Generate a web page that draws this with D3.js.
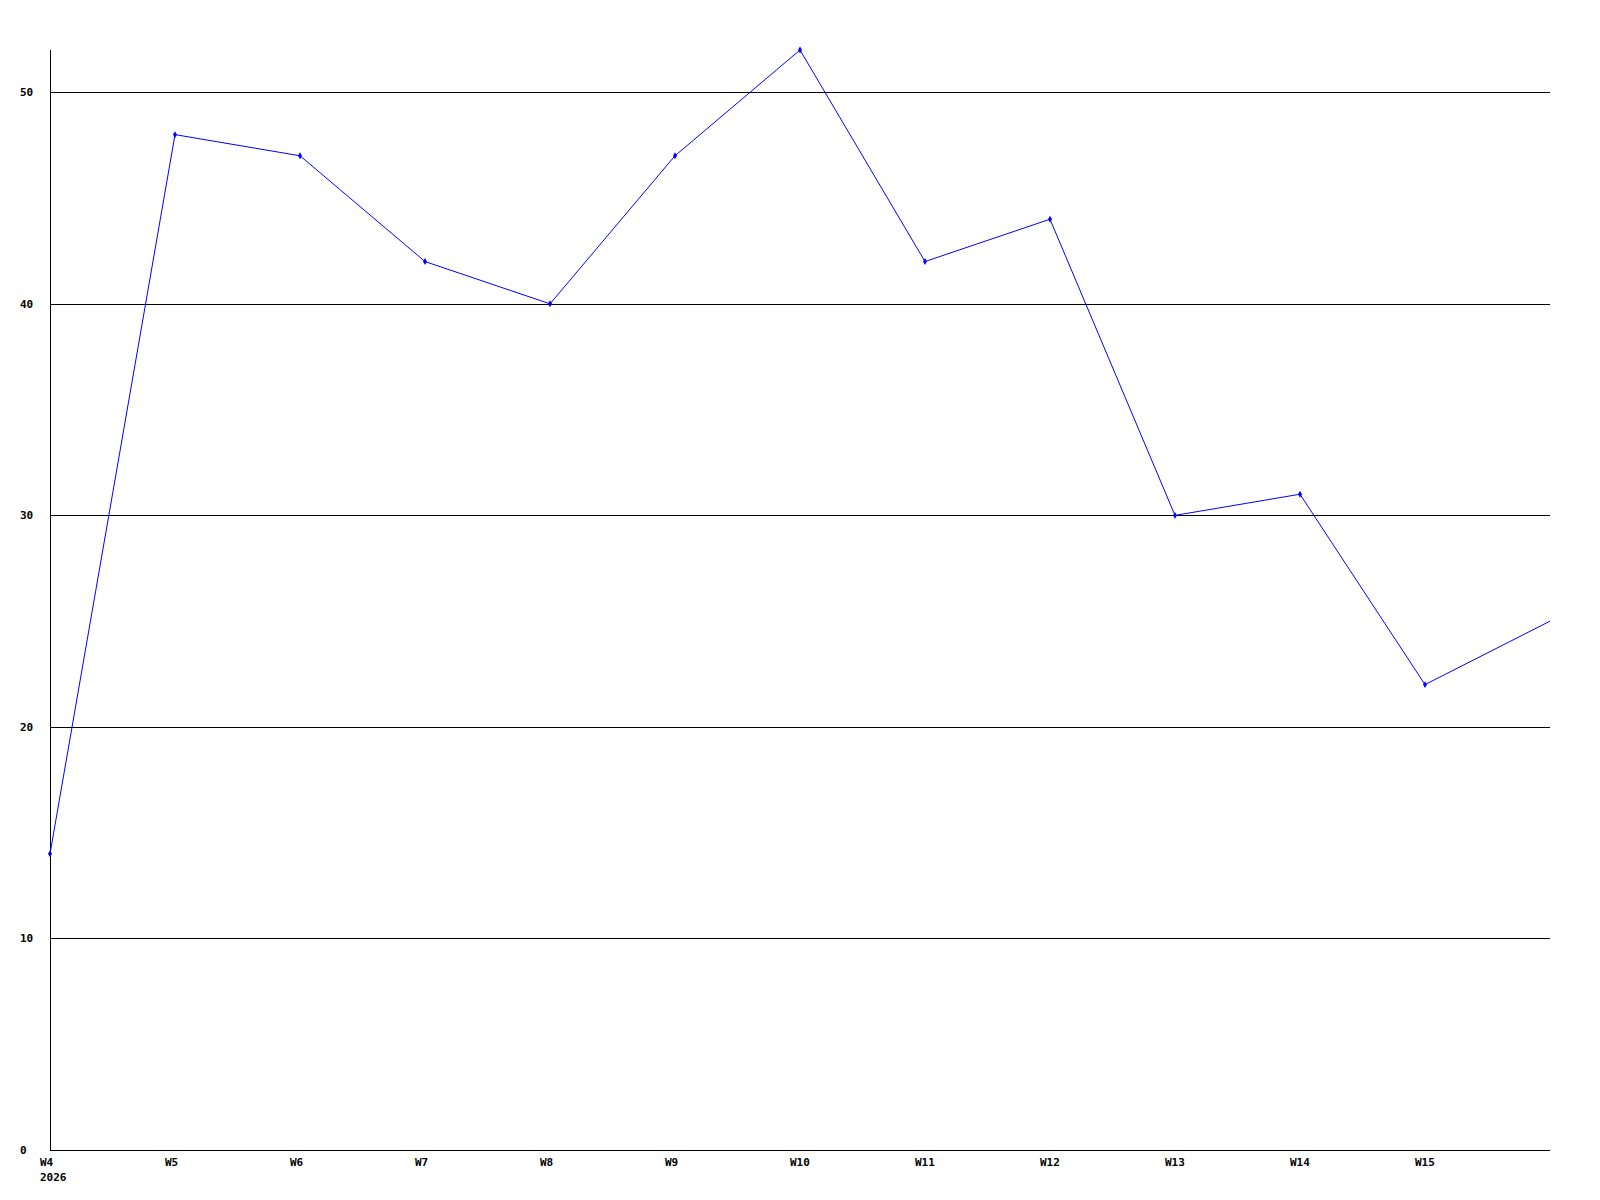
<!DOCTYPE html>
<html>
<head>
<meta charset="utf-8">
<script src="https://cdn.jsdelivr.net/npm/d3@7"></script>
<style>
  body { margin: 0; background: #fff; }
  text { font-family: "DejaVu Sans Mono", monospace; font-weight: bold; font-size: 11px; fill: #000; }
</style>
</head>
<body>
<div id="chart"></div>
<script>
// weekly values, W4 .. W16 (W16 sits on the right edge, no label)
const weeks = ['W4', 'W5', 'W6', 'W7', 'W8', 'W9', 'W10', 'W11', 'W12', 'W13', 'W14', 'W15', 'W16']
const values = [14, 48, 47, 42, 40, 47, 52, 42, 44, 30, 31, 22, 25]
const yTicks = [0, 10, 20, 30, 40, 50]
const yearLabel = '2026'

const w = 1600, h = 1200
const margin = { left: 50, right: 50, top: 50, bottom: 50 }

const svg = d3.select('#chart').append('svg')
  .attr('width', w)
  .attr('height', h)

const x = d3.scaleLinear()
  .domain([0, weeks.length - 1])
  .range([margin.left, w - margin.right])

const y = d3.scaleLinear()
  .domain([0, 52])
  .range([h - margin.bottom, margin.top])

// gridlines
svg.append('g')
  .selectAll('line')
  .data(yTicks.filter(d => d > 0))
  .enter().append('line')
  .attr('x1', x(0))
  .attr('x2', x(weeks.length - 1))
  .attr('y1', d => Math.round(y(d)) + 0.5)
  .attr('y2', d => Math.round(y(d)) + 0.5)
  .attr('stroke', '#000')
  .attr('shape-rendering', 'crispEdges')

// axes lines
svg.append('line')
  .attr('x1', x(0) + 0.5).attr('x2', x(0) + 0.5)
  .attr('y1', y(52)).attr('y2', y(0))
  .attr('stroke', '#000')
  .attr('shape-rendering', 'crispEdges')
svg.append('line')
  .attr('x1', x(0)).attr('x2', x(weeks.length - 1))
  .attr('y1', Math.round(y(0)) + 0.5).attr('y2', Math.round(y(0)) + 0.5)
  .attr('stroke', '#000')
  .attr('shape-rendering', 'crispEdges')

// y labels
svg.append('g')
  .selectAll('text')
  .data(yTicks)
  .enter().append('text')
  .attr('x', 20)
  .attr('y', d => y(d) + 4)
  .text(d => d)

// x labels (last week has no label)
svg.append('g')
  .selectAll('text')
  .data(weeks.slice(0, -1))
  .enter().append('text')
  .attr('x', (d, i) => x(i) - 10)
  .attr('y', y(0) + 16)
  .text(d => d)

svg.append('text')
  .attr('x', x(0) - 10)
  .attr('y', y(0) + 31)
  .text(yearLabel)

// line
const line = d3.line()
  .x((d, i) => x(i))
  .y(d => y(d))

svg.append('path')
  .datum(values)
  .attr('d', line)
  .attr('fill', 'none')
  .attr('stroke', '#0000ff')
  .attr('stroke-width', 1)

// markers
svg.append('g')
  .selectAll('path')
  .data(values.slice(0, -1))
  .enter().append('path')
  .attr('d', d3.symbol().type(d3.symbolDiamond).size(14))
  .attr('transform', (d, i) => 'translate(' + x(i) + ',' + y(d) + ')')
  .attr('fill', '#0000ff')
</script>
</body>
</html>
